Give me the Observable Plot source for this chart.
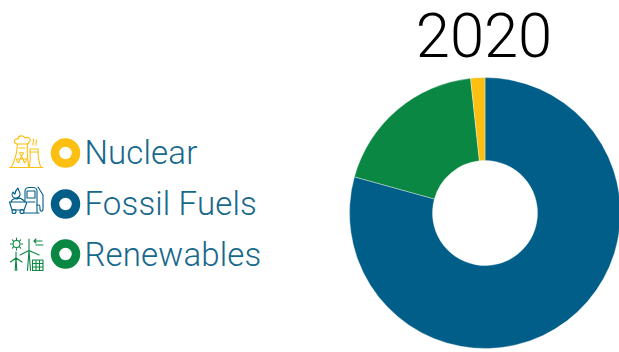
<!DOCTYPE html>
<html>
<head>
<meta charset="utf-8">
<script src="https://cdn.jsdelivr.net/npm/d3@7"></script>
<script src="https://cdn.jsdelivr.net/npm/@observablehq/plot@0.6"></script>
<style>
  html, body { margin: 0; padding: 0; background: #fff; }
  #page { position: relative; width: 619px; height: 352px; overflow: hidden; font-family: Roboto, "Liberation Sans", sans-serif; }
  #chart { position: absolute; left: 0; top: 0; }
  #chart svg { display: block; overflow: hidden; }
  #title { position: absolute; left: 384px; width: 200px; top: 0px; text-align: center; font-size: 61.5px; font-weight: 300; line-height: 72px; color: #000; }
  .row { position: absolute; left: 0; height: 40px; width: 300px; }
  .row svg { position: absolute; left: 0; top: 0; overflow: visible; }
  .label { position: absolute; left: 84.5px; line-height: 40px; font-size: 33px; font-weight: 300; letter-spacing: 0.15px; color: #16688c; white-space: nowrap; }
</style>
</head>
<body>
<div id="page">
  <div id="chart"></div>
  <div id="title">2020</div>
  <div id="legend"></div>
</div>
<script>
// Share of electricity generation in 2020, percent
const sources = ["Fossil Fuels", "Renewables", "Nuclear"];
const shares = [79.3, 19, 1.7];
const colors = ["#005e88", "#0a8742", "#fdbf11"];

const legendOrder = ["Nuclear", "Fossil Fuels", "Renewables"];
const legendRowCenters = [152.5, 204, 253.5];
const legendTextCenters = [153, 204, 255];

// Line-art pictograms, drawn around the row centre on a 44-wide canvas
const icons = {
  "Nuclear": `
    <path d="M11 34.500 C15 28 17 20 17.500 11 L27.500 11 C27 20 27 26 29 34.500"/>
    <path d="M9.500 34.500 H43"/>
    <path d="M17 11 C13 10 14 5 18 6 C18 2 24 2 25 5 C29 3 32 7 29 9 C29 11 27 11 27 11"/>
    <path d="M29 34.500 C31 28 30 22 30 16 H38 C38 22 38 28 41 34.500"/>
    <path d="M30 19 H38 M19 15 H25"/>
    <path d="M33 12 C32 10 35 9 33 6 M36 12 C35 10 38 9 36 7"/>
    <circle cx="21.500" cy="25" r="1"/>
    <path d="M21.500 23.500 L19.500 20 A5 5 0 0 1 23.500 20 Z M20 26 L16.500 26 A5 5 0 0 0 18.500 30 Z M23 26 L26.500 26 A5 5 0 0 1 24.500 30 Z"/>`,
  "Fossil Fuels": `
    <path d="M9.500 18 H27 L24 26 H12 Z"/>
    <path d="M11 18 C12 15 15 14 17 15 C19 13 23 15 25 18"/>
    <circle cx="14" cy="27.500" r="2"/><circle cx="22" cy="27.500" r="2"/>
    <path d="M16 14 C12 14 11 11 13 8 C14 9 14 10 15 10 C15 8 16 6 18 4 C18 7 21 8 20 11 C19.500 13 18 14 16 14 Z"/>
    <path d="M25 17 V7 C25 5 27 3.500 29 3.500 H33 C35 3.500 37 5 37 7 V29 H27 M24 29 H39"/>
    <path d="M27 7 H35 V14 H27 Z M28 18 H35"/>
    <path d="M37 21 H39 C40 21 40 23 40 25 C40 28 43 28 43 25 V11 L38 3"/>`,
  "Renewables": `
    <circle cx="16.500" cy="10" r="3.500"/>
    <path d="M16.500 4 V5.500 M16.500 14.500 V16 M10.500 10 H12 M21 10 H22.500 M12.300 5.800 L13.300 6.800 M20.700 5.800 L19.700 6.800 M12.300 14.200 L13.300 13.200 M20.700 14.200 L19.700 13.200"/>
    <path d="M16 24 L15.200 36.500 M16.800 36.500 L16 24 M16 24 L10.500 28 M16 24 L22 28 M16 24 V18"/>
    <path d="M29 16.500 L27.500 36.500 M30.500 36.500 L29 16.500 M29 16.500 L20 21 M29 16.500 L39 21 M29 16.500 V5"/>
    <path d="M34 7 H42 M34 7 L36 5 M34 7 L36 9 M36 11 H43"/>
    <path d="M32.500 26 H43 V36.500 H32.500 Z M32.500 29.500 H43 M32.500 33 H43 M36 26 V36.500 M39.500 26 V36.500"/>`
};

const iconColor = name => colors[sources.indexOf(name)];

const legend = document.getElementById("legend");
legendOrder.forEach((name, i) => {
  const color = iconColor(name);
  const row = document.createElement("div");
  row.className = "row";
  row.style.top = (legendRowCenters[i] - 20) + "px";
  row.innerHTML = `
    <svg width="84" height="40" viewBox="0 0 84 40">
      <g fill="none" stroke="${color}" stroke-width="1.1" stroke-linejoin="round" stroke-linecap="round">${icons[name]}</g>
      <circle cx="65.500" cy="20" r="10.500" fill="none" stroke="${color}" stroke-width="8.500"/>
    </svg>`;
  legend.appendChild(row);
  const label = document.createElement("div");
  label.className = "label";
  label.style.top = (legendTextCenters[i] - 20) + "px";
  label.textContent = name;
  legend.appendChild(label);
});

// Ring geometry in pixels
const cx = 485, cy = 213, outerRadius = 135.5, innerRadius = 52.5;

const data = sources.map((source, i) => ({source, share: shares[i]}));

// The stacked x position is mapped onto radians, then each bar is redrawn as a ring sector
const arcs = Plot.barX(data, Plot.stackX({
  x: "share",
  fill: "source",
  render(index, scales, channels, dimensions, context) {
    const arc = d3.arc().innerRadius(innerRadius).outerRadius(outerRadius);
    const g = d3.select(context.document.createElementNS("http://www.w3.org/2000/svg", "g"))
      .attr("transform", `translate(${cx},${cy})`);
    for (const i of index) {
      g.append("path")
        .attr("d", arc({startAngle: channels.x1[i], endAngle: channels.x2[i]}))
        .attr("fill", channels.fill[i])
        .attr("stroke", "#fff")
        .attr("stroke-opacity", 0.6)
        .attr("stroke-width", 0.6);
    }
    return g.node();
  }
}));

const chart = Plot.plot({
  width: 619,
  height: 352,
  margin: 0,
  style: {background: "transparent"},
  x: {domain: [0, 100], range: [0, 2 * Math.PI], axis: null},
  color: {domain: sources, range: colors},
  marks: [arcs]
});
document.getElementById("chart").appendChild(chart);
</script>
</body>
</html>
